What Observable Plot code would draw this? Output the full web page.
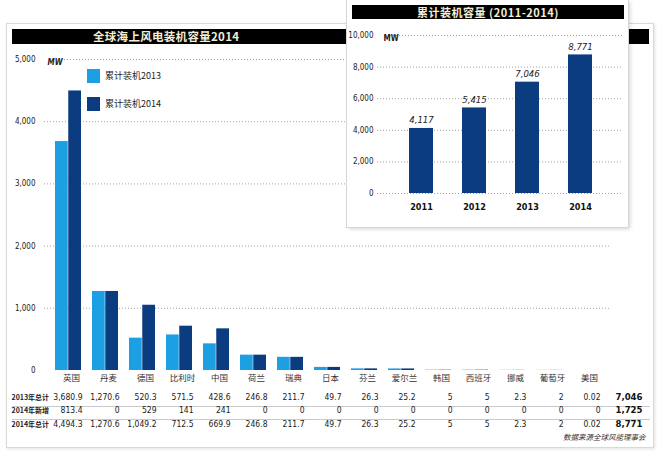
<!DOCTYPE html>
<html><head><meta charset="utf-8">
<script src="https://cdn.jsdelivr.net/npm/d3@7"></script>
<script src="https://cdn.jsdelivr.net/npm/@observablehq/plot@0.6"></script>
<style>
html,body{margin:0;padding:0;background:#fff;}
#root{position:relative;width:666px;height:461px;overflow:hidden;font-family:"Noto Sans CJK SC",sans-serif;}
#root > *{position:absolute;}
#panel{left:6px;top:23px;width:648px;height:425px;border:1px solid #d9d9d9;box-sizing:border-box;box-shadow:1px 1px 3px rgba(0,0,0,0.12);background:#fff;}
#bar{left:12px;top:29px;width:637px;height:15px;background:#000;}
#title{left:93px;top:29px;height:15px;line-height:15px;color:#f3eed6;font-weight:bold;font-size:11.5px;white-space:nowrap;letter-spacing:0.3px;}
#inset{left:347px;top:0;width:281px;height:227px;background:#fff;box-shadow:0 0 0 1px #d6d6d6, 2px 2px 4px rgba(0,0,0,0.18);}
#ibar{position:absolute;left:5px;top:5px;width:272px;height:14px;background:#000;color:#f3eed6;font-weight:bold;font-size:11px;line-height:14px;text-align:center;white-space:nowrap;letter-spacing:0.5px;}
#inset svg{position:absolute;left:0;top:0;}
.sw{width:13px;height:14px;}
.lt{font-size:9px;line-height:14px;color:#222;white-space:nowrap;}
</style></head>
<body>
<div id="root">
  <div id="panel"></div>
  <div id="bar"></div>
  <div id="title"></div>
</div>
<script>
// ---- data ----
const countries = ["英国","丹麦","德国","比利时","中国","荷兰","瑞典","日本","芬兰","爱尔兰","韩国","西班牙","挪威","葡萄牙","美国"];
const total2013 = [3680.9,1270.6,520.3,571.5,428.6,246.8,211.7,49.7,26.3,25.2,5,5,2.3,2,0.02];
const added2014 = [813.4,0,529,141,241,0,0,0,0,0,0,0,0,0,0];
const total2014 = [4494.3,1270.6,1049.2,712.5,669.9,246.8,211.7,49.7,26.3,25.2,5,5,2.3,2,0.02];
const rowLabels = ["2013年总计","2014年新增","2014年总计"];
const rowTotals = ["7,046","1,725","8,771"];
const seriesNames = ["累计装机2013","累计装机2014"];
const mainTicks = [0,1000,2000,3000,4000,5000];
const years = ["2011","2012","2013","2014"];
const cumulative = [4117,5415,7046,8771];
const insetTicks = [0,2000,4000,6000,8000,10000];
const mainTitle = "全球海上风电装机容量2014";
const insetTitle = "累计装机容量 (2011-2014)";
const source = "数据来源全球风能理事会";
const unit = "MW";

// ---- style ----
const LIGHT = "#1d9fe4", DARK = "#0c3c80";
const NARROW = '"Liberation Sans Narrow","DejaVu Sans Condensed",sans-serif';
const CJK = '"Noto Sans CJK SC",sans-serif';
const GRID = {stroke:"#9a9a9a", strokeDasharray:"1,2", strokeWidth:0.9};
const fmt = d3.format(",");

const table = countries.map((c,i)=>({country:c, v2013:total2013[i], add:added2014[i], v2014:total2014[i]}));
const rowKeys = ["v2013","add","v2014"];
const rowDy = [29,42,56];
const half = 13.25;

const root = document.getElementById("root");
document.getElementById("title").textContent = mainTitle;

const mainMarks = [
  Plot.ruleY(mainTicks.filter(t=>t>0 && t<5000), GRID),
  Plot.ruleY([mainTicks[mainTicks.length-1]], {...GRID, insetLeft:20}),
  Plot.barY(table, {x:"country", y:"v2013", fill:LIGHT, insetRight:half}),
  Plot.barY(table, {x:"country", y:"v2014", fill:DARK, insetLeft:half}),
  Plot.axisY({ticks:mainTicks, tickFormat:d=>fmt(d), tickSize:0, tickPadding:9, fontSize:8, color:"#222", label:null}),
  Plot.text([unit], {text:d=>d, frameAnchor:"top-left", dx:3, textAnchor:"start", fontWeight:"bold", fontStyle:"italic", fontSize:8, fill:"#222"}),
  Plot.axisX({tickSize:0, tickPadding:4, fontSize:8.5, dx:3, fontFamily:CJK, color:"#333", label:null}),
  Plot.ruleY([0], {dy:36, insetLeft:-32, insetRight:-40, stroke:"#c9c9c9"}),
  Plot.ruleY([0], {dy:49, insetLeft:-32, insetRight:-40, stroke:"#c9c9c9"})
];
rowKeys.forEach((k,i)=>{
  mainMarks.push(Plot.text(table, {x:"country", text:d=>fmt(d[k]), frameAnchor:"bottom", dy:rowDy[i], dx:14, textAnchor:"end", fontSize:8.5, fill:"#1a1a1a"}));
  mainMarks.push(Plot.text([rowLabels[i]], {text:d=>d, frameAnchor:"bottom-left", dx:-33, dy:rowDy[i], textAnchor:"start", fontSize:7, fontWeight:"bold", fontFamily:CJK, fill:"#1a1a1a"}));
  mainMarks.push(Plot.text([rowTotals[i]], {text:d=>d, frameAnchor:"bottom-right", dx:32, dy:rowDy[i], textAnchor:"end", fontSize:9.5, fontWeight:"bold", fill:"#111"}));
});
mainMarks.push(Plot.text([source], {text:d=>d, frameAnchor:"bottom-right", dx:35, dy:69, textAnchor:"end", fontSize:7.5, fontStyle:"italic", fontFamily:CJK, fill:"#333"}));

const main = Plot.plot({
  width:666, height:461, marginTop:59, marginBottom:91, marginLeft:44, marginRight:56,
  style:{background:"transparent", fontFamily:NARROW, overflow:"visible"},
  x:{domain:countries, paddingInner:0.3, paddingOuter:0.15, label:null},
  y:{domain:[0,5000], label:null},
  marks:mainMarks
});
main.style.left = "0px"; main.style.top = "0px";
root.appendChild(main);

// legend
const legTop = [69,97];
seriesNames.forEach((name,i)=>{
  const sw = document.createElement("div");
  sw.className = "sw"; sw.style.left = "87px"; sw.style.top = legTop[i]+"px";
  sw.style.background = [LIGHT,DARK][i];
  root.appendChild(sw);
  const t = document.createElement("div");
  t.className = "lt"; t.style.left = "105px"; t.style.top = legTop[i]+"px";
  t.textContent = name;
  root.appendChild(t);
});

// inset
const insetDiv = document.createElement("div");
insetDiv.id = "inset";
const ibar = document.createElement("div");
ibar.id = "ibar"; ibar.textContent = insetTitle;
insetDiv.appendChild(ibar);
const insetData = years.map((y,i)=>({year:y, value:cumulative[i]}));
const inset = Plot.plot({
  width:281, height:227, marginTop:35, marginBottom:34, marginLeft:30, marginRight:5,
  style:{background:"transparent", fontFamily:NARROW, overflow:"visible"},
  x:{domain:years, range:[44.8,262.3], paddingInner:0.55, paddingOuter:0.3, label:null},
  y:{domain:[0,10000], label:null},
  marks:[
    Plot.ruleY(insetTicks.slice(0,-1), GRID),
    Plot.ruleY([insetTicks[insetTicks.length-1]], {...GRID, insetLeft:13}),
    Plot.barY(insetData, {x:"year", y:"value", fill:DARK}),
    Plot.text(insetData, {x:"year", y:"value", text:d=>fmt(d.value), dy:-8, fontStyle:"italic", fontSize:9.5, fill:"#222"}),
    Plot.axisY({ticks:insetTicks, tickFormat:d=>fmt(d), tickSize:0, tickPadding:4, fontSize:8, color:"#222", label:null}),
    Plot.text([unit], {text:d=>d, frameAnchor:"top-left", dx:6, textAnchor:"start", fontWeight:"bold", fontSize:8, fill:"#222"}),
    Plot.axisX({tickSize:0, tickPadding:10, fontWeight:"bold", fontSize:9, color:"#111", label:null})
  ]
});
insetDiv.appendChild(inset);
root.appendChild(insetDiv);
</script>
</body></html>
